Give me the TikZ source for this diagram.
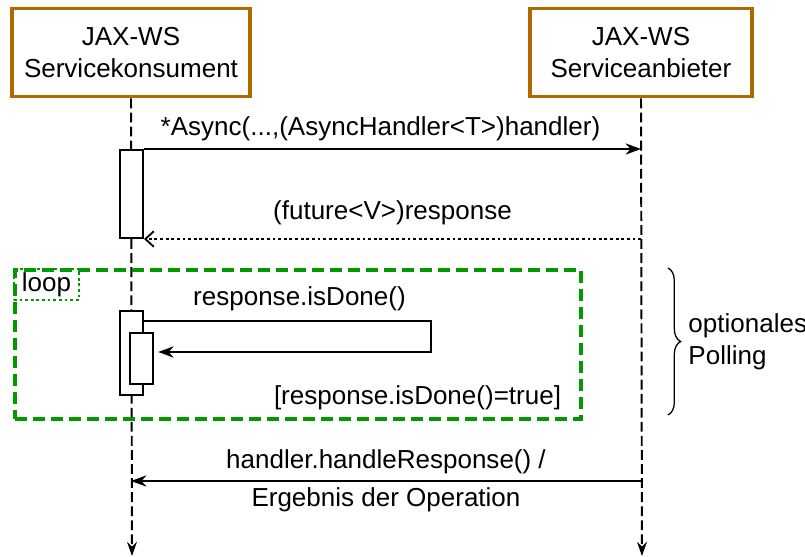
\documentclass[tikz,border=0pt]{standalone}
\usepackage{fontspec}
\setmainfont{Liberation Sans}
\usetikzlibrary{arrows.meta, positioning, decorations.pathreplacing}
\definecolor{boxBrown}{HTML}{B06A00}
\definecolor{loopGreen}{HTML}{009A00}

\begin{document}
\begin{tikzpicture}[
    x=0.025cm, y=-0.025cm,
    font=\fontsize{18.5}{22.8}\selectfont,
    % Participant Boxes
    participant/.style={
        rectangle,
        draw=boxBrown,
        line width=2.8pt,
        fill=white,
        minimum height=2.2cm,
        inner xsep=6pt,
        align=center
    },
    % Lifelines
    lifeline/.style={
        line width=1.4pt,
        dash pattern=on 7pt off 3pt,
        -{Stealth[length=10pt, width=7pt]}
    },
    % Activation Bars
    activation/.style={
        rectangle,
        draw,
        line width=1.4pt,
        fill=white,
        minimum width=0.575cm,
        inner sep=0pt
    },
    % Messages
    msg/.style={
        line width=1.4pt,
        -{Stealth[length=11pt, width=8pt]}
    },
    reply/.style={
        line width=1.3pt,
        dash pattern=on 2pt off 2pt,
        -{Straight Barb[length=6pt, width=11pt]}
    },
    % Loop Fragment
    loopframe/.style={
        rectangle,
        draw=loopGreen,
        line width=2.5pt,
        dash pattern=on 8.5pt off 4.3pt,
        minimum width=14.15cm,
        minimum height=3.725cm,
        anchor=north west,
        inner sep=0pt
    },
    looptag/.style={
        rectangle,
        draw=loopGreen,
        line width=1.3pt,
        dash pattern=on 2pt off 2pt,
        minimum width=1.625cm,
        minimum height=0.775cm,
        anchor=north west,
        inner sep=0pt
    },
    % Brace
    brace/.style={
        line width=0.9pt,
        decoration={brace, amplitude=9pt},
        decorate
    }
]
\useasboundingbox (0,0) rectangle (805,557);

% --- PARTICIPANTS ---
\node[participant, minimum width=5.95cm] (konsument) at (131,52.5) {JAX-WS\\Servicekonsument};
\node[participant, minimum width=5.55cm] (anbieter) at (641,52.5) {JAX-WS\\Serviceanbieter};

% --- LIFELINES ---
\coordinate (konsumentEnd) at (132,556);
\coordinate (anbieterEnd) at (642,556);
\draw[lifeline] (konsument.south) -- (konsumentEnd);
\draw[lifeline] (anbieter.south) -- (anbieterEnd);

% --- ASYNC CALL ---
\node[activation, minimum height=2.2cm] (actCall) at (131.5,194) {};
\draw[msg] (actCall.north east) -- (actCall.north east -| anbieter.south)
    node[midway, above=2pt, xshift=-12*0.025cm] (callLabel) {*Async(...,(AsyncHandler<T>)handler)};
\draw[reply] (actCall.south east -| anbieter.south) -- (actCall.south east)
    node[midway, above=6pt] (replyLabel) {(future<V>)response};

% --- LOOP FRAGMENT ---
\node[loopframe] (loop) at (13,268) {};
\node[looptag] (loopTag) at (loop.north west) {loop};
\node[activation, minimum height=2.1cm] (actPoll) at (131.5,353) {};
\node[activation, minimum height=1.275cm] (actDone) at (141.5,358.5) {};
\coordinate (selfTop) at (431,321);
\coordinate (selfBottom) at (431,352);
\draw[msg] (actPoll.east |- selfTop) -- (selfTop)
    node[midway, above=3pt, xshift=12*0.025cm] (pollLabel) {response.isDone()}
    -- (selfBottom) -- ([xshift=3pt]actDone.east |- selfBottom);
\node[anchor=east] (guard) at (566,398) {[response.isDone()=true]};

% --- BRACE ---
\draw[brace] (668,268) -- (668,415) coordinate[midway, xshift=9pt] (braceTip);
\node[right=2pt of braceTip, align=left] (pollingNote) {optionales\\Polling};

% --- CALLBACK ---
\coordinate (handlerY) at (0,481);
\draw[msg] (handlerY -| anbieter.south) -- (handlerY -| konsument.south)
    node[midway, above=1pt] (handlerLabel) {handler.handleResponse() /}
    node[midway, below=1pt] (resultLabel) {Ergebnis der Operation};

\end{tikzpicture}
\end{document}
